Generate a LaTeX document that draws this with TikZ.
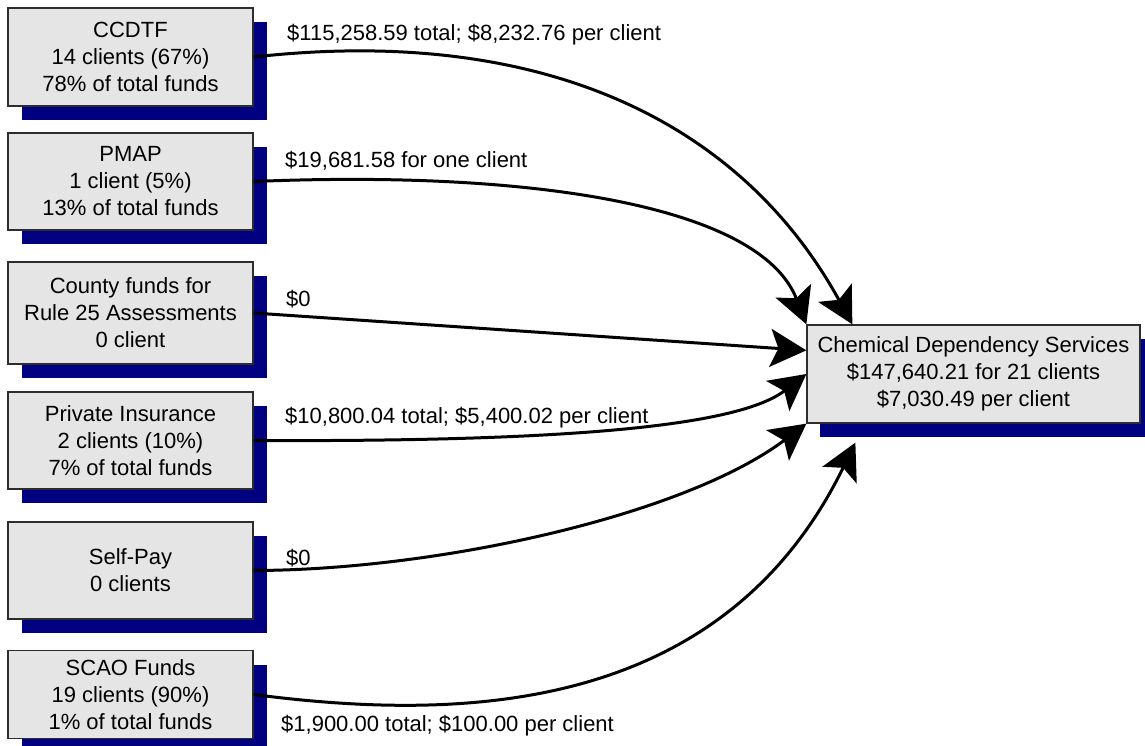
\documentclass[tikz,border=0pt]{standalone}
\usepackage{fontspec}
\setmainfont{Liberation Sans}
\usetikzlibrary{arrows.meta,shadows,calc}
\definecolor{boxfill}{RGB}{229,229,229}
\definecolor{shadownavy}{RGB}{0,0,128}
\definecolor{boxline}{RGB}{45,45,45}
\begin{document}
\begin{tikzpicture}[x=1pt,y=-1pt,
  basebox/.style={draw=boxline, line width=1.3pt, fill=boxfill, align=center,
    inner sep=0pt, font=\fontsize{22}{27}\selectfont},
  srcbox/.style={basebox, minimum width=245pt,
    drop shadow={shadow xshift=14pt, shadow yshift=-14pt, fill=shadownavy, opacity=1}},
  tgtbox/.style={basebox, minimum width=333pt, minimum height=98pt,
    drop shadow={shadow xshift=13pt, shadow yshift=-14pt, fill=shadownavy, opacity=1}},
  flow/.style={line width=3pt, -{Stealth[length=36pt,width=38pt,inset=8pt]}},
  lbl/.style={font=\fontsize{22}{27}\selectfont, inner sep=0pt, anchor=base west}]
\useasboundingbox (0,0) rectangle (1145,746);
\fill[white] (0,0) rectangle (1145,746);

\node[srcbox, minimum height=98pt]  (ccdtf)   at (130.5,57)    {CCDTF\\14 clients (67\%)\\78\% of total funds};
\node[srcbox, minimum height=97pt]  (pmap)    at (130.5,181.5) {PMAP\\1 client (5\%)\\13\% of total funds};
\node[srcbox, minimum height=102pt] (county)  at (130.5,313)   {County funds for\\Rule 25 Assessments\\0 client};
\node[srcbox, minimum height=97pt]  (private) at (130.5,440.5) {Private Insurance\\2 clients (10\%)\\7\% of total funds};
\node[srcbox, minimum height=97pt]  (selfpay) at (130.5,570.5) {Self-Pay\\0 clients};
\node[srcbox, minimum height=88pt]  (scao)    at (130.5,694.5) {SCAO Funds\\19 clients (90\%)\\1\% of total funds};

\node[tgtbox] (cds) at (973.5,374) {Chemical Dependency Services\\\$147,640.21 for 21 clients\\\$7,030.49 per client};

\draw[flow] (ccdtf.east) .. controls (540,25) and (740,120) .. ($(cds.north west)+(46,0)$);
\draw[flow] (pmap.east) .. controls (530,170) and (760,205) .. (cds.north west);
\draw[flow] (county.east) -- ($(cds.north west)+(0,26)$);
\draw[flow] (private.east) .. controls (580,442) and (740,425) .. (cds.west);
\draw[flow] (selfpay.east) .. controls (440,570) and (685,515) .. (cds.south west);
\draw[flow] (scao.east) .. controls (450,720) and (720,720) .. ($(cds.south west)+(49,19)$);

\node[lbl] (l1) at (287,41)  {\$115,258.59 total; \$8,232.76 per client};
\node[lbl] (l2) at (285,168) {\$19,681.58 for one client};
\node[lbl] (l3) at (286,306) {\$0};
\node[lbl] (l4) at (285,423) {\$10,800.04 total; \$5,400.02 per client};
\node[lbl] (l5) at (286,565) {\$0};
\node[lbl] (l6) at (281,731) {\$1,900.00 total; \$100.00 per client};
\end{tikzpicture}
\end{document}
